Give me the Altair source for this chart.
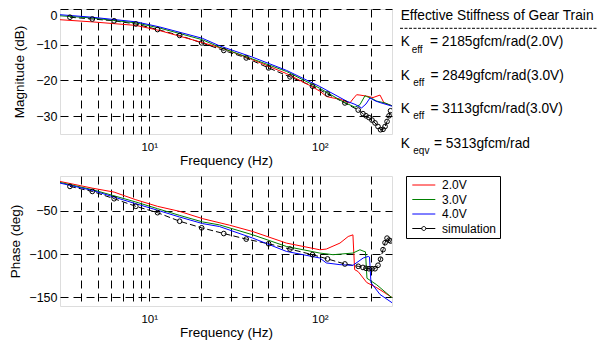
import altair as alt
import pandas as pd

FONT = "Liberation Sans"

SERIES = ["2.0V", "3.0V", "4.0V", "simulation"]
COLORS = ["#ff0000", "#008000", "#0000ff", "#000000"]

# ---------------- magnitude (dB) ----------------
RED_MAG_F = [3.0, 4.62, 8.38, 11.45, 20.5, 28.4, 40.4, 63.9, 87.4, 100.0, 109.5, 119.3,
             131.1, 140.3, 150.2, 156.4, 164.4, 171.9, 188.3, 205.0, 225.4, 237.9, 265.0]
RED_MAG = [-3.0, -3.6, -4.6, -6.0, -9.4, -11.4, -14.2, -18.1, -21.4, -23.0, -24.5, -24.9,
           -25.2, -25.8, -26.3, -25.2, -24.0, -24.1, -24.4, -24.8, -24.1, -26.3, -27.1]

GREEN_MAG_F = [3.0, 4.62, 8.38, 11.45, 20.5, 25.8, 40.4, 63.9, 100.0, 137.1, 160.7, 171.9,
               184.0, 188.3, 205.0, 215.6, 241.2, 265.0]
GREEN_MAG = [-1.9, -2.5, -3.9, -5.3, -8.6, -10.7, -14.0, -17.5, -22.2, -26.0, -27.5, -26.8,
             -24.3, -24.5, -25.2, -25.8, -26.3, -27.1]

BLUE_MAG_F = [3.0, 4.62, 8.38, 11.45, 20.5, 25.8, 40.4, 63.9, 100.0, 143.6, 160.7, 175.9,
              186.5, 196.9, 210.7, 225.4, 265.0]
BLUE_MAG = [-1.6, -2.3, -3.6, -5.0, -8.2, -10.3, -13.5, -17.2, -21.7, -25.8, -26.7, -27.7,
            -26.6, -24.9, -25.7, -26.2, -27.2]

SIM_F = [3.43, 4.64, 6.23, 8.35, 11.19, 15.08, 20.3, 27.36, 37.06, 50.1, 66.9, 90.6, 111.0,
         140.3, 168.0, 179.0, 186.5, 194.2, 202.3, 210.7, 219.4, 227.0, 234.8, 241.3, 247.9,
         254.7, 259.8]
SIM_MAG = [-2.3, -2.8, -3.3, -4.2, -5.75, -7.4, -9.5, -11.6, -13.7, -16.5, -19.0, -21.6, -23.8,
           -26.3, -28.3, -29.3, -29.9, -30.4, -31.1, -31.9, -32.9, -33.8, -33.7, -32.9, -31.5,
           -29.9, -28.5]

# ---------------- phase (deg) ----------------
SIM_PH = [-22.0, -27.8, -36.2, -45.0, -52.3, -62.2, -69.8, -76.4, -82.8, -88.2, -94.3, -100.8,
          -105.7, -111.5, -114.2, -115.5, -116.5, -117.0, -117.0, -117.0, -113.0, -106.0, -95.0,
          -87.0, -81.7, -84.0, -85.0]

RED_PH_F = [3.0, 4.64, 6.23, 8.35, 11.19, 15.0, 20.55, 29.5, 40.5, 63.7, 100.0, 109.2, 131.3,
            146.7, 156.4, 160.0, 167.8, 188.4, 216.2, 265.0]
RED_PH = [-16.3, -24.0, -28.6, -37.4, -45.0, -50.7, -59.2, -66.7, -74.1, -87.4, -95.1, -94.3,
          -87.4, -79.8, -77.9, -118.0, -120.3, -132.9, -139.0, -150.1]

GREEN_PH_F = [3.0, 4.64, 8.35, 11.19, 15.0, 20.55, 25.8, 40.5, 63.7, 100.0, 119.6, 156.4, 171.9,
              181.5, 185.2, 189.0, 215.6, 265.0]
GREEN_PH = [-17.4, -25.7, -40.0, -47.7, -55.3, -63.0, -66.4, -77.9, -91.3, -98.9, -100.8, -98.9,
            -95.1, -97.0, -97.5, -128.0, -135.5, -150.5]

BLUE_PH_F = [3.0, 4.64, 8.35, 11.19, 15.0, 20.55, 25.8, 40.5, 63.7, 100.0, 109.2, 131.3, 156.4,
             179.8, 192.4, 195.6, 199.5, 225.4, 265.0]
BLUE_PH = [-18.2, -26.6, -42.0, -49.5, -57.2, -64.9, -68.3, -81.7, -97.0, -104.6, -110.3, -112.3,
           -113.1, -104.6, -102.8, -103.5, -133.0, -146.7, -156.2]

# ---------------- annotation texts ----------------
ANNOT_TITLE = "Effective Stiffness of Gear Train"
K_MAIN = ["K", "K", "K", "K"]
K_SUB = ["eff", "eff", "eff", "eqv"]
K_TEXT = ["= 2185gfcm/rad(2.0V)", "= 2849gfcm/rad(3.0V)", "= 3113gfcm/rad(3.0V)", "= 5313gfcm/rad"]

X_GRID = [4, 5, 6, 7, 8, 9, 10, 20, 30, 40, 50, 60, 70, 80, 90, 100, 200]
MAG_TICKS = [0, -10, -20, -30]
PH_TICKS = [-50, -100, -150]


def frame(fs, vs, name):
    return pd.DataFrame({"f": fs, "v": vs, "s": name})


mag_series = [frame(RED_MAG_F, RED_MAG, SERIES[0]),
              frame(GREEN_MAG_F, GREEN_MAG, SERIES[1]),
              frame(BLUE_MAG_F, BLUE_MAG, SERIES[2])]
mag_sim = frame(SIM_F, SIM_MAG, SERIES[3])
ph_series = [frame(RED_PH_F, RED_PH, SERIES[0]),
             frame(GREEN_PH_F, GREEN_PH, SERIES[1]),
             frame(BLUE_PH_F, BLUE_PH, SERIES[2])]
ph_sim = frame(SIM_F, SIM_PH, SERIES[3])
legend_df = pd.DataFrame({"f": [10.0] * 4, "v": [-50.0] * 4, "s": SERIES})

W = 332
H_TOP = 125
H_BOT = 130


def x_enc():
    return alt.X(
        "f:Q",
        scale=alt.Scale(type="log", domain=[3, 265], nice=False),
        axis=alt.Axis(values=X_GRID,
                      labelExpr="datum.value == 10 ? '10\u00b9' : (datum.value == 100 ? '10\u00b2' : '')",
                      title="Frequency (Hz)", grid=True, gridDash=[8, 5], gridColor="#000000",
                      gridOpacity=1, gridWidth=1, ticks=False, domain=False, labelFontSize=11.5,
                      labelPadding=7, titleFontSize=13.5, titlePadding=1, titleFontWeight="normal",
                      labelOverlap=False, labelFlush=False, labelColor="#000", titleColor="#000"),
    )


def y_enc(domain, ticks, title, tpad):
    return alt.Y(
        "v:Q",
        scale=alt.Scale(domain=domain, nice=False, zero=False),
        axis=alt.Axis(values=ticks, title=title, grid=True, gridDash=[8, 5], gridColor="#000000",
                      gridOpacity=1, gridWidth=1, ticks=False, domain=False, labelFontSize=12.5,
                      labelPadding=3, titleFontSize=13.5, titlePadding=tpad,
                      labelBaseline={"condition": {"test": "datum.value == 0", "value": "top"},
                                     "value": "middle"},
                      titleFontWeight="normal", labelColor="#000", titleColor="#000"),
    )


def panel(series, sim, domain, ticks, title, tpad):
    X = x_enc()
    Y = y_enc(domain, ticks, title, tpad)
    layers = [alt.Chart(sim).mark_line(color="black", strokeWidth=1, strokeDash=[6, 3],
                                       clip=True).encode(x=X, y=Y)]
    for df, col in zip(series, COLORS[:3]):
        layers.append(alt.Chart(df).mark_line(color=col, strokeWidth=1, clip=True).encode(x=X, y=Y))
    layers.append(alt.Chart(sim).mark_point(shape="circle", filled=False, size=22, color="black",
                                            strokeWidth=1, opacity=1, clip=True).encode(x=X, y=Y))
    return layers


def label(text, x, y, size=13.75):
    return alt.Chart(alt.Data(values=[{"t": text}])).mark_text(
        align="left", baseline="middle", fontSize=size, font=FONT, color="black").encode(
        x=alt.value(x), y=alt.value(y), text="t:N")


top_layers = panel(mag_series, mag_sim, [-35, 0], MAG_TICKS, "Magnitude (dB)", 9)
annots = [label(ANNOT_TITLE, 340.7, 7.0)]
sep = alt.Chart(alt.Data(values=[{"a": 1}])).mark_rule(
    color="black", strokeWidth=1, strokeDash=[3, 1.5]).encode(
    x=alt.value(340), x2=alt.value(538), y=alt.value(19.3))
annots.append(sep)
ROW_Y = [33.0, 67.0, 100.0, 134.5]
SUB_Y = [41.0, 73.5, 106.5, 142.0]
SUB_X = [351.7, 353.3, 353.3, 353.3]
TXT_X = [370.0, 370.5, 370.5, 374.0]
for i in range(4):
    annots.append(label(K_MAIN[i], 340.7, ROW_Y[i]))
    annots.append(label(K_SUB[i], SUB_X[i], SUB_Y[i], size=10))
    annots.append(label(K_TEXT[i], TXT_X[i], ROW_Y[i]))

top = alt.layer(*top_layers, *annots).properties(width=W, height=H_TOP)

PATH_LINE = "M-2.3,0H2.3"
PATH_SIM = "M-2.3,0H-0.4M0.4,0H2.3M-0.4,0A0.4,0.4,0,1,1,0.4,0A0.4,0.4,0,1,1,-0.4,0"
leg = alt.Legend(title=None, orient="right", offset=14, padding=3, strokeColor="black",
                 fillColor="white", labelFontSize=12, labelFont=FONT, symbolSize=100,
                 symbolStrokeWidth=1, symbolOffset=8.8, labelOffset=12.2, rowPadding=2.5,
                 symbolOpacity=1, symbolFillColor="transparent",
                 labelExpr="datum.label + '   '", cornerRadius=0, labelColor="#000")
legend_layer = alt.Chart(legend_df).mark_point(filled=False, opacity=0).encode(
    x=x_enc(), y=y_enc([-160, -10], PH_TICKS, "Phase (deg)", 6),
    color=alt.Color("s:N", scale=alt.Scale(domain=SERIES, range=COLORS), legend=leg),
    shape=alt.Shape("s:N", scale=alt.Scale(domain=SERIES,
                                           range=[PATH_LINE, PATH_LINE, PATH_LINE, PATH_SIM]),
                    legend=leg),
)
bot_layers = panel(ph_series, ph_sim, [-160, -10], PH_TICKS, "Phase (deg)", 6)
bottom = alt.layer(*bot_layers, legend_layer).properties(width=W, height=H_BOT)

chart = alt.vconcat(top, bottom, spacing=7).resolve_scale(
    color="independent", shape="independent").properties(
    padding={"left": 0, "top": 0, "right": 0, "bottom": 0}, background="white"
).configure_view(stroke="black", strokeWidth=1).configure(font=FONT)

chart.save("out.html", embed_options={"renderer": "svg", "actions": False})
